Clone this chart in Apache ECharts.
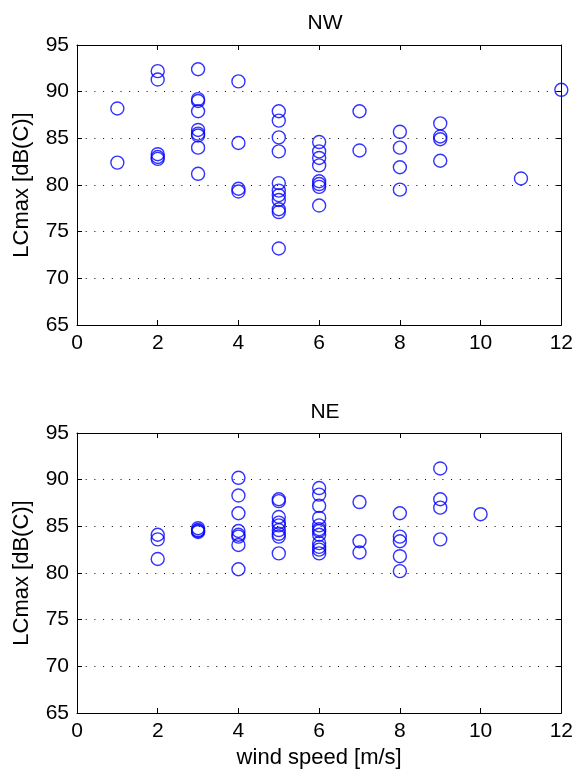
<!DOCTYPE html>
<html>
<head>
<meta charset="utf-8">
<script src="https://cdn.jsdelivr.net/npm/echarts@6/dist/echarts.min.js"></script>
<style>
html,body{margin:0;padding:0;background:#fff;}
#chart{width:576px;height:776px;}
</style>
</head>
<body>
<div id="chart"></div>
<script>
// NW panel
const windNW = [1,1, 2,2,2,2,2, 3,3,3,3,3,3,3,3,3, 4,4,4,4, 5,5,5,5,5,5,5,5,5,5,5, 6,6,6,6,6,6,6,6, 7,7, 8,8,8,8, 9,9,9,9, 11, 12];
const lcmaxNW = [88.2,82.4, 92.2,91.3,83.3,83.0,82.8, 92.4,89.2,89.0,87.9,85.9,85.5,85.3,84.0,81.2, 91.1,84.5,79.6,79.3, 87.9,86.9,85.1,83.6,80.2,79.4,78.9,78.4,77.4,77.1,73.2, 84.6,83.6,82.9,82.1,80.4,80.1,79.8,77.8, 87.9,83.7, 85.7,84.0,81.9,79.5, 86.6,85.2,84.9,82.6, 80.7, 90.2];
// NE panel
const windNE = [2,2,2, 3,3,3,3, 4,4,4,4,4,4,4,4, 5,5,5,5,5,5,5,5,5, 6,6,6,6,6,6,6,6,6,6,6,6, 7,7,7, 8,8,8,8,8, 9,9,9,9, 10];
const lcmaxNE = [84.1,83.6,81.5, 84.8,84.6,84.5,84.4, 90.2,88.3,86.4,84.5,84.1,83.9,83.0,80.4, 87.9,87.7,86.0,85.4,85.1,84.6,84.2,83.9,82.1, 89.1,88.4,87.2,85.9,85.1,84.7,84.5,84.1,83.2,82.8,82.5,82.1, 87.6,83.4,82.2, 86.4,83.9,83.4,81.8,80.2, 91.2,87.9,87.0,83.6, 86.3];
const panelTitles = ['NW', 'NE'];
const xName = 'wind speed [m/s]';
const yName = 'LCmax [dB(C)]';

const FONT = 'Liberation Sans';
const chart = echarts.init(document.getElementById('chart'), null, {renderer: 'canvas'});

function pairs(xs, ys) { return xs.map((x, i) => [x, ys[i]]); }

function xAxes(gridIndex, withName) {
  return [
    {
      type: 'value', gridIndex, position: 'bottom', min: 0, max: 12, interval: 2,
      name: withName ? xName : '', nameLocation: 'middle', nameGap: 34,
      nameTextStyle: {fontFamily: FONT, fontSize: 22, color: '#000'},
      axisLine: {show: true, onZero: false, lineStyle: {color: '#000', width: 1}},
      axisTick: {show: true, inside: true, length: 5, lineStyle: {color: '#000'}},
      axisLabel: {fontFamily: FONT, fontSize: 21, color: '#000', margin: 8},
      splitLine: {show: false}
    },
    {
      type: 'value', gridIndex, position: 'top', min: 0, max: 12, interval: 2,
      axisLine: {show: true, onZero: false, lineStyle: {color: '#000', width: 1}},
      axisTick: {show: true, inside: true, length: 5, lineStyle: {color: '#000'}},
      axisLabel: {show: false},
      splitLine: {show: false}
    }
  ];
}

function yAxes(gridIndex) {
  return [
    {
      type: 'value', gridIndex, position: 'left', min: 65, max: 95, interval: 5,
      name: yName, nameLocation: 'middle', nameGap: 44, nameRotate: 90,
      nameTextStyle: {fontFamily: FONT, fontSize: 22, color: '#000'},
      axisLine: {show: true, onZero: false, lineStyle: {color: '#000', width: 1}},
      axisTick: {show: true, inside: true, length: 5, lineStyle: {color: '#000'}},
      axisLabel: {fontFamily: FONT, fontSize: 21, color: '#000', margin: 8},
      splitLine: {show: true, lineStyle: {color: '#000', width: 1, type: [1, 7.7]}}
    },
    {
      type: 'value', gridIndex, position: 'right', min: 65, max: 95, interval: 5,
      axisLine: {show: true, onZero: false, lineStyle: {color: '#000', width: 1}},
      axisTick: {show: true, inside: true, length: 5, lineStyle: {color: '#000'}},
      axisLabel: {show: false},
      splitLine: {show: false}
    }
  ];
}

const markerStyle = {color: 'rgba(0,0,0,0)', borderColor: '#0000ff', borderWidth: 1.4};

chart.setOption({
  animation: false,
  backgroundColor: '#fff',
  title: [
    {text: panelTitles[0], left: 320, top: 8, textAlign: 'center',
     textStyle: {fontFamily: FONT, fontSize: 21, fontWeight: 'normal', color: '#000'}},
    {text: panelTitles[1], left: 320, top: 397, textAlign: 'center',
     textStyle: {fontFamily: FONT, fontSize: 21, fontWeight: 'normal', color: '#000'}}
  ],
  grid: [
    {left: 77, right: 13, top: 45, height: 280, containLabel: false},
    {left: 77, right: 13, top: 433, height: 280, containLabel: false}
  ],
  xAxis: [...xAxes(0, false), ...xAxes(1, true)],
  yAxis: [...yAxes(0), ...yAxes(1)],
  series: [
    {type: 'scatter', xAxisIndex: 0, yAxisIndex: 0, symbol: 'circle', symbolSize: 13,
     itemStyle: markerStyle, data: pairs(windNW, lcmaxNW), clip: false},
    {type: 'scatter', xAxisIndex: 2, yAxisIndex: 2, symbol: 'circle', symbolSize: 13,
     itemStyle: markerStyle, data: pairs(windNE, lcmaxNE), clip: false}
  ]
});
</script>
</body>
</html>
